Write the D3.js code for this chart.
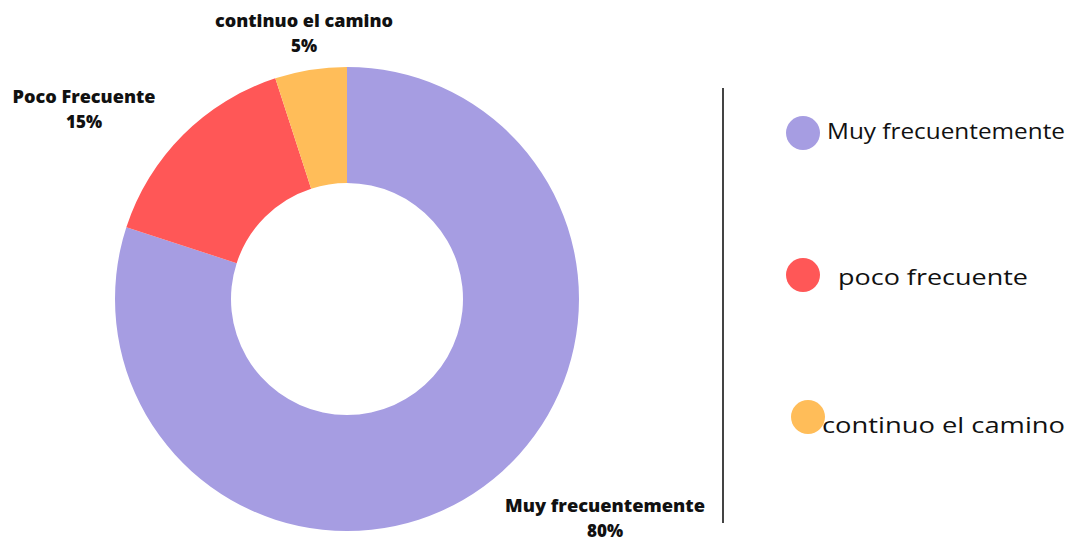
<!DOCTYPE html>
<html><head><meta charset="utf-8">
<script src="https://cdn.jsdelivr.net/npm/d3@7"></script>
<style>body{margin:0;background:#fff}svg{display:block}</style>
</head><body>
<svg id="c" width="1079" height="543"></svg>
<script>
const categories = ["Muy frecuentemente", "Poco Frecuente", "continuo el camino"];
const values = [80, 15, 5];
const legendLabels = ["Muy frecuentemente", "poco frecuente", "continuo el camino"];
const colors = ["#a69de2", "#ff5757", "#ffbd59"];

const svg = d3.select("#c");
const cx = 347, cy = 299, R = 232, r = 116;
const pie = d3.pie().sort(null).value(d => d)(values);
const arc = d3.arc().innerRadius(r).outerRadius(R);
const g = svg.append("g").attr("transform", `translate(${cx},${cy})`);
g.selectAll("path").data(pie).join("path").attr("d", arc).attr("fill", (d,i) => colors[i]);

const labelPos = [[605, 512, 200], [84, 103, 143], [304, 27, 178]];
const lf = "'Open Sans', sans-serif";
categories.forEach((c, i) => {
  const [x, y, w] = labelPos[i];
  svg.append("text").attr("x", x).attr("y", y)
    .attr("text-anchor", "middle").attr("font-family", lf).attr("font-weight", 800)
    .attr("font-size", 17).attr("fill", "#111")
    .attr("textLength", w).attr("lengthAdjust", "spacingAndGlyphs").text(c);
  svg.append("text").attr("x", x).attr("y", y + 25)
    .attr("text-anchor", "middle").attr("font-family", lf).attr("font-weight", 800)
    .attr("font-size", 17).attr("fill", "#111").text(values[i] + "%");
});

svg.append("line").attr("x1", 723).attr("x2", 723).attr("y1", 88).attr("y2", 523)
  .attr("stroke", "#444").attr("stroke-width", 2);

const leg = [
  {cx: 803, cy: 133, tx: 827, ty: 139, w: 238},
  {cx: 803, cy: 275, tx: 838, ty: 285, w: 190},
  {cx: 808, cy: 417, tx: 822, ty: 433, w: 243}
];
leg.forEach((l, i) => {
  svg.append("circle").attr("cx", l.cx).attr("cy", l.cy).attr("r", 17).attr("fill", colors[i]);
  svg.append("text").attr("x", l.tx).attr("y", l.ty).attr("font-family", "'Open Sans', sans-serif")
    .attr("font-size", 22).attr("fill", "#111").attr("textLength", l.w)
    .attr("lengthAdjust", "spacingAndGlyphs").text(legendLabels[i]);
});
</script>
</body></html>
